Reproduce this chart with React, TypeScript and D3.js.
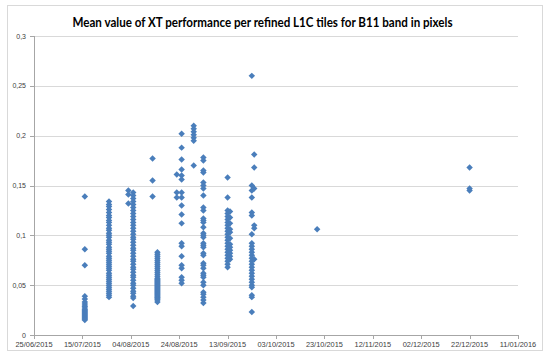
import React from "react";
import * as d3 from "d3";

// ---- data ----
const title = "Mean value of XT performance per refined L1C tiles for B11 band in pixels";

const xTickLabels = [
  "25/06/2015", "15/07/2015", "04/08/2015", "24/08/2015", "13/09/2015", "03/10/2015",
  "23/10/2015", "12/11/2015", "02/12/2015", "22/12/2015", "11/01/2016",
];
const yTickValues = [0, 0.05, 0.1, 0.15, 0.2, 0.25, 0.3];

const d20150716 = [0.139, 0.086, 0.07, 0.039, 0.036, 0.033, 0.031, 0.029, 0.028, 0.026, 0.025, 0.024, 0.023, 0.022, 0.021, 0.02, 0.019, 0.018, 0.017, 0.016, 0.015];
const d20150726 = [0.134, 0.131, 0.129, 0.126, 0.123, 0.12, 0.118, 0.115, 0.113, 0.11, 0.107, 0.105, 0.102, 0.1, 0.098, 0.095, 0.093, 0.091, 0.088, 0.086, 0.084, 0.082, 0.079, 0.077, 0.075, 0.073, 0.071, 0.069, 0.067, 0.065, 0.062, 0.06, 0.058, 0.056, 0.054, 0.052, 0.05, 0.048, 0.046, 0.044, 0.042, 0.04, 0.038];
const d20150803 = [0.145, 0.141, 0.132];
const d20150805 = [0.143, 0.14, 0.137, 0.134, 0.131, 0.128, 0.125, 0.122, 0.119, 0.116, 0.113, 0.11, 0.107, 0.104, 0.101, 0.098, 0.096, 0.093, 0.09, 0.087, 0.085, 0.082, 0.079, 0.076, 0.074, 0.071, 0.068, 0.066, 0.063, 0.06, 0.058, 0.055, 0.052, 0.05, 0.047, 0.044, 0.042, 0.039, 0.037, 0.029];
const d20150813 = [0.177, 0.155, 0.139];
const d20150815 = [0.083, 0.081, 0.079, 0.077, 0.075, 0.073, 0.071, 0.069, 0.067, 0.065, 0.063, 0.061, 0.059, 0.057, 0.056, 0.055, 0.054, 0.053, 0.052, 0.051, 0.05, 0.049, 0.048, 0.047, 0.046, 0.045, 0.044, 0.043, 0.042, 0.041, 0.04, 0.039, 0.038, 0.037, 0.036, 0.035, 0.033];
const d20150823 = [0.161, 0.143, 0.138];
const d20150825 = [0.202, 0.188, 0.176, 0.166, 0.16, 0.156, 0.143, 0.138, 0.13, 0.121, 0.112, 0.092, 0.089, 0.079, 0.07, 0.067, 0.058, 0.055, 0.052];
const d20150830 = [0.21, 0.207, 0.204, 0.201, 0.198, 0.195, 0.17];
const d20150903 = [0.178, 0.175, 0.165, 0.163, 0.153, 0.15, 0.147, 0.14, 0.128, 0.125, 0.117, 0.115, 0.113, 0.108, 0.102, 0.1, 0.098, 0.092, 0.09, 0.088, 0.082, 0.08, 0.072, 0.07, 0.067, 0.062, 0.06, 0.058, 0.053, 0.05, 0.043, 0.041, 0.038, 0.035, 0.032];
const d20150913 = [0.158, 0.138, 0.125, 0.122, 0.119, 0.116, 0.113, 0.11, 0.107, 0.104, 0.101, 0.098, 0.095, 0.092, 0.089, 0.086, 0.083, 0.08, 0.077, 0.074, 0.071, 0.068];
const d20150914 = [0.124, 0.118, 0.112, 0.106, 0.103, 0.097, 0.091, 0.088, 0.085, 0.082, 0.079, 0.076];
const d20150923 = [0.26, 0.15, 0.145, 0.138, 0.123, 0.12, 0.101, 0.092, 0.089, 0.086, 0.083, 0.08, 0.077, 0.074, 0.071, 0.068, 0.065, 0.062, 0.059, 0.056, 0.053, 0.05, 0.048, 0.04, 0.038, 0.023];
const d20150924 = [0.181, 0.168, 0.147, 0.11, 0.107, 0.076];
const d20151020 = [0.106];
const d20151222 = [0.168, 0.147, 0.145];

const acquisitions: [string, number[]][] = [
  ["2015-07-16", d20150716],
  ["2015-07-26", d20150726],
  ["2015-08-03", d20150803],
  ["2015-08-05", d20150805],
  ["2015-08-13", d20150813],
  ["2015-08-15", d20150815],
  ["2015-08-23", d20150823],
  ["2015-08-25", d20150825],
  ["2015-08-30", d20150830],
  ["2015-09-03", d20150903],
  ["2015-09-13", d20150913],
  ["2015-09-14", d20150914],
  ["2015-09-23", d20150923],
  ["2015-09-24", d20150924],
  ["2015-10-20", d20151020],
  ["2015-12-22", d20151222],
];

const parseLabel = (s: string) => {
  const [dd, mm, yy] = s.split("/").map(Number);
  return new Date(Date.UTC(yy, mm - 1, dd));
};
const parseIso = d3.utcParse("%Y-%m-%d");

export default function App() {
  const W = 550, H = 358;
  const left = 34, right = 518, top = 36, bottom = 335;
  const xDates = xTickLabels.map(parseLabel);
  const x = d3.scaleUtc().domain([xDates[0], xDates[xDates.length - 1]]).range([left, right]);
  const y = d3.scaleLinear().domain([0, 0.3]).range([bottom, top]);
  const fmtY = (v: number) => d3.format("~g")(v).replace(".", ",");
  const diamond = d3.symbol().type(d3.symbolSquare).size(21)();
  const points: { cx: number; cy: number }[] = [];
  acquisitions.forEach(([d, vals]) => {
    const dx = x(parseIso(d)!);
    vals.forEach((v) => points.push({ cx: dx, cy: y(v) }));
  });
  const axisCol = "#a6a6a6";
  const font = "'Liberation Sans', Arial, sans-serif";
  return (
    <div style={{ position: "fixed", left: 0, top: 0 }}>
      <svg width={W} height={H} style={{ display: "block", background: "#fff" }}>
        <rect x={7.5} y={5.5} width={535} height={345} fill="#fff" stroke="#d9d9d9" strokeWidth={1} />
        <text x={262.5} y={26.5} textAnchor="middle" fontFamily="Lato, sans-serif" fontWeight="bold" fontSize={13.4} fill="#000" textLength={380} lengthAdjust="spacingAndGlyphs">
          {title}
        </text>
        {yTickValues.map((v) => (
          <g key={v}>
            {v > 0 && (
              <line x1={left} x2={right} y1={Math.round(y(v)) + 0.5} y2={Math.round(y(v)) + 0.5} stroke="#d9d9d9" />
            )}
            <line x1={left - 4} x2={left} y1={Math.round(y(v)) + 0.5} y2={Math.round(y(v)) + 0.5} stroke={axisCol} />
            <text x={left - 8} y={y(v) + 2.5} textAnchor="end" fontFamily={font} fontSize={7} fill="#404040">
              {fmtY(v)}
            </text>
          </g>
        ))}
        <line x1={left + 0.5} x2={left + 0.5} y1={top} y2={bottom} stroke={axisCol} />
        <line x1={left} x2={right} y1={bottom + 0.5} y2={bottom + 0.5} stroke={axisCol} />
        {xDates.map((d, i) => (
          <g key={i}>
            <line x1={Math.round(x(d)) + 0.5} x2={Math.round(x(d)) + 0.5} y1={bottom} y2={bottom + 4} stroke={axisCol} />
            <text x={x(d)} y={347} textAnchor="middle" fontFamily={font} fontSize={7.4} fill="#404040">
              {xTickLabels[i]}
            </text>
          </g>
        ))}
        {points.map((p, i) => (
          <path key={i} d={diamond!} transform={`translate(${p.cx},${p.cy}) rotate(45)`} fill="#4a7ebb" />
        ))}
      </svg>
    </div>
  );
}
